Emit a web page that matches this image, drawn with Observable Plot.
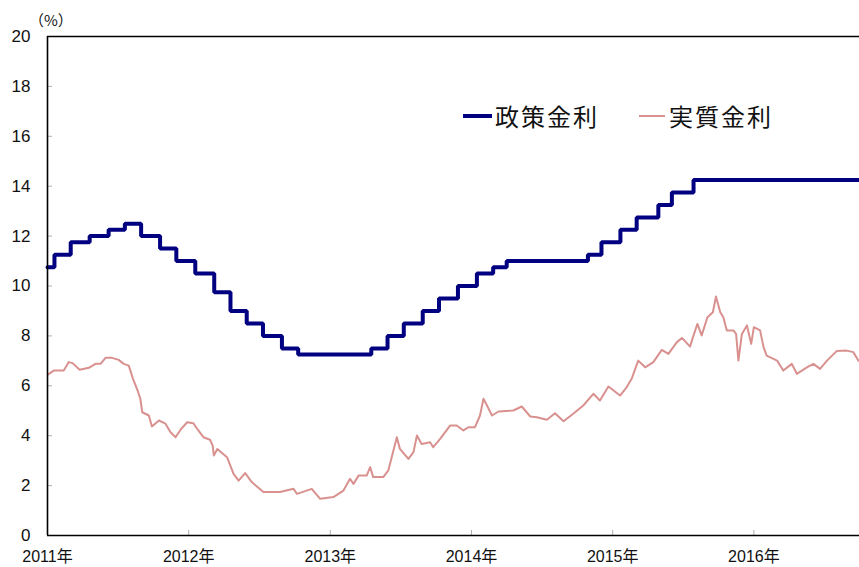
<!DOCTYPE html>
<html>
<head>
<meta charset="utf-8">
<script src="https://cdn.jsdelivr.net/npm/d3@7"></script>
<script src="https://cdn.jsdelivr.net/npm/@observablehq/plot@0.6"></script>
<style>
  html, body { margin: 0; padding: 0; background: #fff; }
  #wrap { position: relative; width: 859px; height: 567px; overflow: hidden; }
  #chart { position: absolute; left: 0; top: 0; }
  .lbl { position: absolute; font-family: "Noto Sans CJK JP", "Noto Sans", sans-serif; color: #111; white-space: nowrap; }
  .sw { position: absolute; }
</style>
</head>
<body>
<div id="wrap">
  <div id="chart"></div>
  <div class="lbl" id="unit" style="left:29px; top:10px; font-size:15px; line-height:20px;">（%）</div>
  <div class="sw" style="left:463px; top:114px; width:29px; height:4px; background:#000080;"></div>
  <div class="lbl" style="left:495px; top:99px; font-size:24px; line-height:34px; letter-spacing:2px;">政策金利</div>
  <div class="sw" style="left:639px; top:115px; width:26px; height:2px; background:#d9918f;"></div>
  <div class="lbl" style="left:669px; top:99px; font-size:24px; line-height:34px; letter-spacing:2px;">実質金利</div>
</div>
<script>
// Policy rate (政策金利), step changes
const policyDates = ["2011-01-01","2011-01-19","2011-03-02","2011-04-20","2011-06-08","2011-07-20","2011-08-31","2011-10-19","2011-11-30",
  "2012-01-18","2012-03-07","2012-04-18","2012-05-30","2012-07-11","2012-08-29","2012-10-10",
  "2013-04-17","2013-05-29","2013-07-10","2013-08-28","2013-10-09","2013-11-27",
  "2014-01-15","2014-02-26","2014-04-02","2014-10-29","2014-12-03",
  "2015-01-21","2015-03-04","2015-04-29","2015-06-03","2015-07-29","2016-09-30"];
const policyRates = [10.75,11.25,11.75,12.00,12.25,12.50,12.00,11.50,11.00,
  10.50,9.75,9.00,8.50,8.00,7.50,7.25,
  7.50,8.00,8.50,9.00,9.50,10.00,
  10.50,10.75,11.00,11.25,11.75,
  12.25,12.75,13.25,13.75,14.25,14.25];

const realDates = ["2011-01-02","2011-01-17","2011-02-12","2011-02-25","2011-03-07","2011-03-25","2011-04-18","2011-05-05","2011-05-18","2011-05-31",
  "2011-06-17","2011-07-04","2011-07-17","2011-07-30","2011-08-10","2011-08-22","2011-08-29","2011-09-03","2011-09-20","2011-09-28",
  "2011-10-16","2011-11-02","2011-11-15","2011-11-28","2011-12-11","2011-12-28","2012-01-13","2012-01-26","2012-02-08","2012-02-25",
  "2012-03-03","2012-03-06","2012-03-15","2012-04-09","2012-04-26","2012-05-09","2012-05-26","2012-06-12","2012-07-12","2012-08-24",
  "2012-09-28","2012-10-07","2012-11-14","2012-12-06","2013-01-09","2013-02-04","2013-02-21","2013-03-02","2013-03-15","2013-04-05",
  "2013-04-14","2013-04-22","2013-05-18","2013-05-31","2013-06-22","2013-06-30","2013-07-22","2013-08-04","2013-08-13","2013-08-25",
  "2013-09-16","2013-09-24","2013-10-12","2013-11-07","2013-11-24","2013-12-11","2013-12-24","2014-01-10","2014-01-23","2014-02-01",
  "2014-02-10","2014-02-23","2014-03-12","2014-04-19","2014-05-11","2014-06-02","2014-06-19","2014-07-15","2014-08-05","2014-08-27",
  "2014-09-21","2014-10-17","2014-11-12","2014-11-29","2014-12-21","2015-01-20","2015-02-06","2015-02-19","2015-03-08","2015-03-26",
  "2015-04-16","2015-05-08","2015-05-25","2015-06-16","2015-06-29","2015-07-20","2015-07-29","2015-08-08","2015-08-19","2015-09-03",
  "2015-09-17","2015-09-25","2015-10-06","2015-10-14","2015-10-23","2015-11-09","2015-11-16","2015-11-22","2015-12-01","2015-12-14",
  "2015-12-25","2016-01-01","2016-01-17","2016-01-26","2016-02-03","2016-03-01","2016-03-17","2016-04-08","2016-04-21","2016-05-17",
  "2016-06-03","2016-06-20","2016-07-08","2016-08-02","2016-08-28","2016-09-14","2016-09-27"];
const realValues = [6.45,6.61,6.61,6.95,6.91,6.64,6.72,6.88,6.88,7.12,
  7.12,7.04,6.88,6.81,6.28,5.81,5.48,4.94,4.81,4.37,
  4.61,4.48,4.14,3.94,4.24,4.54,4.50,4.21,3.94,3.84,
  3.60,3.21,3.47,3.14,2.47,2.20,2.50,2.14,1.74,1.74,
  1.87,1.67,1.87,1.47,1.54,1.80,2.27,2.07,2.40,2.40,
  2.74,2.34,2.34,2.61,3.94,3.47,3.07,3.34,4.01,3.67,
  3.74,3.54,3.87,4.41,4.41,4.21,4.34,4.34,4.81,5.48,
  5.21,4.81,4.97,5.01,5.17,4.77,4.74,4.64,4.90,4.58,
  4.88,5.21,5.68,5.41,5.97,5.61,5.94,6.28,7.01,6.74,
  6.95,7.44,7.28,7.75,7.92,7.57,8.02,8.48,8.02,8.75,
  8.95,9.58,8.95,8.75,8.22,8.22,8.08,7.01,8.08,8.42,
  7.68,8.35,8.22,7.55,7.21,7.01,6.61,6.88,6.48,6.74,
  6.88,6.68,7.01,7.39,7.41,7.35,7.01];

const yTicks = [0,2,4,6,8,10,12,14,16,18,20];
const xTickYears = ["2011-01-01","2012-01-01","2013-01-01","2014-01-01","2015-01-01","2016-01-01"];
const xDomain = ["2011-01-01","2016-09-30"];

const policy = policyDates.map((d,i) => ({date: new Date(d), value: policyRates[i]}));
const real = realDates.map((d,i) => ({date: new Date(d), value: realValues[i]}));

const chart = Plot.plot({
  width: 859,
  height: 567,
  marginLeft: 47,
  marginRight: 0,
  marginTop: 36,
  marginBottom: 32,
  style: {fontFamily: "'Liberation Sans','Noto Sans CJK JP',sans-serif", background: "transparent", overflow: "visible"},
  x: {type: "utc", domain: xDomain.map(d => new Date(d)), label: null},
  y: {domain: [0, 20], label: null},
  marks: [
    Plot.axisY(yTicks, {tickSize: -5, tickPadding: 22, stroke: "#b0b0b0", fill: "#111", fontSize: 17, label: null}),
    Plot.axisX(xTickYears.map(d => new Date(d)), {tickSize: -5, tickPadding: 20, stroke: "#b0b0b0", fill: "#111", fontSize: 16, label: null,
      tickFormat: d => d.getUTCFullYear() + "年"}),
    Plot.line(real, {x: "date", y: "value", stroke: "#d9918f", strokeWidth: 2}),
    Plot.line(policy, {x: "date", y: "value", stroke: "#000080", strokeWidth: 4, curve: "step-after", strokeLinejoin: "miter"}),
    Plot.ruleY([0, 20], {stroke: "#000", strokeWidth: 1.6}),
    Plot.ruleX([new Date(xDomain[0])], {stroke: "#000", strokeWidth: 1.6})
  ]
});
document.getElementById("chart").appendChild(chart);
</script>
</body>
</html>
